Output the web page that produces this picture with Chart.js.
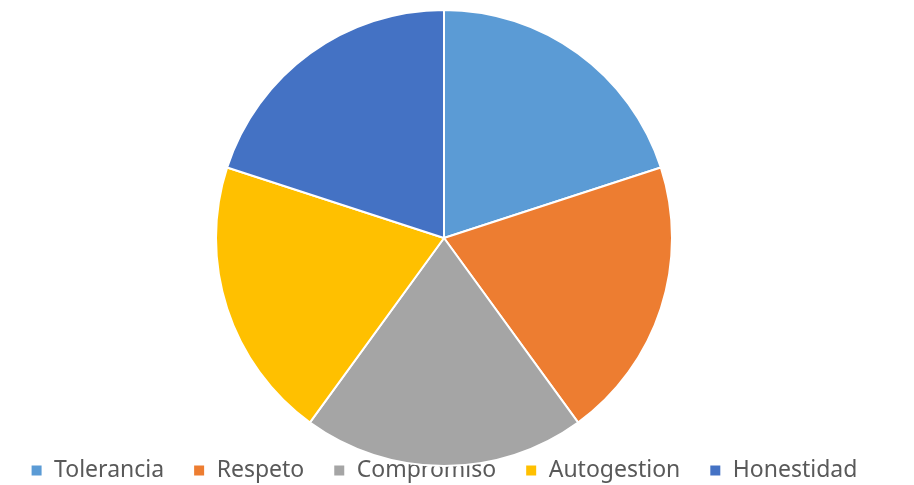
<!DOCTYPE html>
<html>
<head>
<meta charset="utf-8">
<script src="https://cdn.jsdelivr.net/npm/chart.js@4/dist/chart.umd.min.js"></script>
<style>
  html, body { margin: 0; padding: 0; background: #fff; }
  #wrap { width: 914px; height: 485px; }
</style>
</head>
<body>
<div id="wrap"><canvas id="pieChart"></canvas></div>
<script>
// Data
const categories = ['Tolerancia', 'Respeto', 'Compromiso', 'Autogestion', 'Honestidad'];
const values = [20, 20, 20, 20, 20];
const colors = ['#5B9BD5', '#ED7D31', '#A5A5A5', '#FFC000', '#4472C4'];

const ctx = document.getElementById('pieChart');
new Chart(ctx, {
  type: 'pie',
  data: {
    labels: categories,
    datasets: [{
      data: values,
      backgroundColor: colors,
      borderColor: '#ffffff',
      borderWidth: 2
    }]
  },
  options: {
    responsive: true,
    maintainAspectRatio: false,
    animation: false,
    radius: 228,
    layout: { padding: { top: 46, right: 26 } },
    plugins: {
      tooltip: { enabled: false },
      legend: {
        position: 'bottom',
        maxHeight: 55,
        labels: {
          boxWidth: 12,
          boxHeight: 12,
          padding: 29,
          color: '#595959',
          font: { family: '"Noto Sans", sans-serif', size: 23 }
        }
      }
    }
  }
});
</script>
</body>
</html>
